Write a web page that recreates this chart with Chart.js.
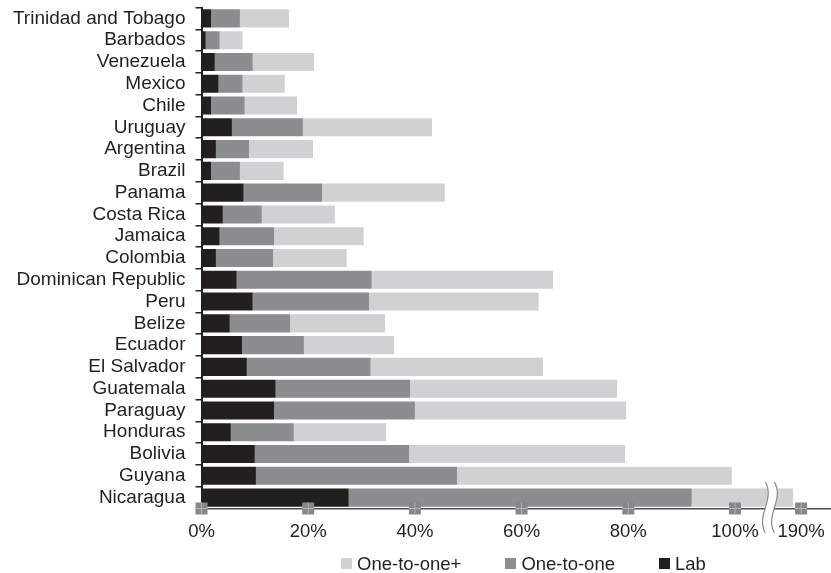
<!DOCTYPE html>
<html>
<head>
<meta charset="utf-8">
<script src="https://cdn.jsdelivr.net/npm/chart.js@4.4.0/dist/chart.umd.min.js"></script>
<style>
  html, body { margin: 0; padding: 0; background: #fff; }
  #wrap { position: relative; width: 831px; height: 573px; }
  #legend {
    position: absolute; left: 341px; top: 553px; height: 21px;
    display: flex; gap: 44px; align-items: center;
    font-family: "Liberation Sans", Arial, sans-serif; font-size: 18.5px; color: #231f20;
  }
  #legend span.item { display: flex; align-items: center; line-height: 21px; }
  #legend span.box { display: inline-block; width: 11px; height: 11px; margin-right: 5px; }
</style>
</head>
<body>
<div id="wrap">
  <canvas id="barChart" width="831" height="573"></canvas>
  <div id="legend"></div>
</div>
<script>
// Negara (urutan dari atas ke bawah)
const countries = ["Trinidad and Tobago", "Barbados", "Venezuela", "Mexico", "Chile", "Uruguay",
    "Argentina", "Brazil", "Panama", "Costa Rica", "Jamaica", "Colombia", "Dominican Republic",
    "Peru", "Belize", "Ecuador", "El Salvador", "Guatemala", "Paraguay", "Honduras", "Bolivia",
    "Guyana", "Nicaragua"];

// Nilai tiap segmen (%)
const labShare = [1.8, 0.8, 2.5, 3.2, 1.8, 5.7, 2.7, 1.8, 7.9, 4.0, 3.4, 2.7, 6.6,
    9.6, 5.3, 7.6, 8.5, 13.9, 13.6, 5.5, 10.0, 10.2, 27.6];
const oneToOneShare = [5.4, 2.6, 7.1, 4.5, 6.3, 13.3, 6.2, 5.4, 14.7, 7.3, 10.2, 10.7, 25.3,
    21.8, 11.3, 11.6, 23.2, 25.2, 26.4, 11.8, 28.9, 37.7, 64.3];
const oneToOnePlusShare = [9.2, 4.3, 11.5, 7.9, 9.8, 24.2, 12.0, 8.2, 23.0, 13.7, 16.8, 13.8, 34.0,
    31.8, 17.8, 16.9, 32.3, 38.8, 39.6, 17.3, 40.5, 51.5, 96.6];

const tickValues = [0, 20, 40, 60, 80, 100, 190];
const seriesNames = ["Lab", "One-to-one", "One-to-one+"];
const seriesColors = ["#231f20", "#8c8d90", "#d0d1d3"];

// Sumbu terputus: nilai di atas titik putus digeser ke kiri
const BREAK_SHIFT = 77.6;
function toAxis(v) { return v >= 150 ? v - BREAK_SHIFT : v; }
function fromAxis(v) { return v > 100 ? Math.round(v + BREAK_SHIFT) : Math.round(v); }

const segments = [labShare, oneToOneShare, oneToOnePlusShare];
const datasets = segments.map((vals, s) => ({
    label: seriesNames[s],
    backgroundColor: seriesColors[s],
    data: vals.map((v, i) => {
        let start = 0;
        for (let k = 0; k < s; k++) start += segments[k][i];
        return [toAxis(start), toAxis(start + v)];
    }),
    grouped: false,
    barPercentage: 0.83,
    categoryPercentage: 1,
    borderWidth: 0
}));

// Tanda putus sumbu dan penanda tick di sumbu x
const axisMarks = {
    id: "axisMarks",
    afterDraw(chart) {
        const { ctx, chartArea, scales: { x } } = chart;
        const y0 = chartArea.bottom;
        const top = y0 - 26.5, bottom = y0 + 24.5, h = bottom - top;
        const c1 = x.getPixelForValue(105.7), c2 = x.getPixelForValue(107.4);
        const curve = (cx, reverse) => {
            if (!reverse) {
                ctx.bezierCurveTo(cx + 10, top + h * 0.35, cx - 10, top + h * 0.65, cx, bottom);
            } else {
                ctx.bezierCurveTo(cx - 10, top + h * 0.65, cx + 10, top + h * 0.35, cx, top);
            }
        };
        ctx.save();
        ctx.beginPath();
        ctx.moveTo(c1, top);
        curve(c1, false);
        ctx.lineTo(c2, bottom);
        curve(c2, true);
        ctx.closePath();
        ctx.fillStyle = "#fff";
        ctx.fill();
        ctx.strokeStyle = "#8a8a8c";
        ctx.lineWidth = 1.2;
        [c1, c2].forEach(cx => {
            ctx.beginPath();
            ctx.moveTo(cx, top);
            curve(cx, false);
            ctx.stroke();
        });

        tickValues.forEach(v => {
            const px = x.getPixelForValue(toAxis(v));
            ctx.fillStyle = "#87878a";
            ctx.fillRect(px - 6, y0 - 6, 12, 12);
            ctx.strokeStyle = "#b3b3b5";
            ctx.lineWidth = 1;
            ctx.beginPath();
            ctx.moveTo(px, y0 - 6); ctx.lineTo(px, y0 + 6);
            ctx.moveTo(px - 6, y0); ctx.lineTo(px + 6, y0);
            ctx.stroke();
        });
        ctx.restore();
    }
};

const font = "'Liberation Sans', Arial, sans-serif";
let ctx = document.getElementById("barChart").getContext("2d");
let barChart = new Chart(ctx, {
    type: "bar",
    data: { labels: countries, datasets: datasets },
    options: {
        indexAxis: "y",
        responsive: false,
        animation: false,
        layout: { padding: { top: 7.5, right: 0, bottom: 0, left: 0 } },
        plugins: { legend: { display: false }, tooltip: { enabled: false } },
        scales: {
            x: {
                min: 0,
                max: 118,
                afterBuildTicks: scale => {
                    scale.ticks = tickValues.map(v => ({ value: toAxis(v) }));
                },
                afterFit: scale => {
                    scale.height = 64.5;
                    scale.paddingLeft = 0;
                    scale.paddingRight = 0;
                },
                grid: { display: false, drawTicks: false },
                border: { display: true, color: "#4d4d4f", width: 1.5 },
                ticks: {
                    padding: 12,
                    color: "#231f20",
                    autoSkip: false,
                    maxRotation: 0,
                    font: { family: font, size: 18.5 },
                    callback: v => fromAxis(v) + "%"
                }
            },
            y: {
                afterFit: scale => {
                    scale.width = 201.5;
                    scale.paddingTop = 0;
                    scale.paddingBottom = 0;
                },
                grid: { offset: true, drawOnChartArea: false, tickLength: 6, color: "#231f20", lineWidth: 1.5 },
                border: { display: true, color: "#231f20", width: 2 },
                ticks: { padding: 10, autoSkip: false, color: "#231f20", font: { family: font, size: 19 } }
            }
        }
    },
    plugins: [axisMarks]
});

// Legenda (urutan terbalik seperti di gambar)
const legendEl = document.getElementById("legend");
datasets.slice().reverse().forEach(ds => {
    const item = document.createElement("span");
    item.className = "item";
    const box = document.createElement("span");
    box.className = "box";
    box.style.background = ds.backgroundColor;
    item.appendChild(box);
    item.appendChild(document.createTextNode(ds.label));
    legendEl.appendChild(item);
});
</script>
</body>
</html>
